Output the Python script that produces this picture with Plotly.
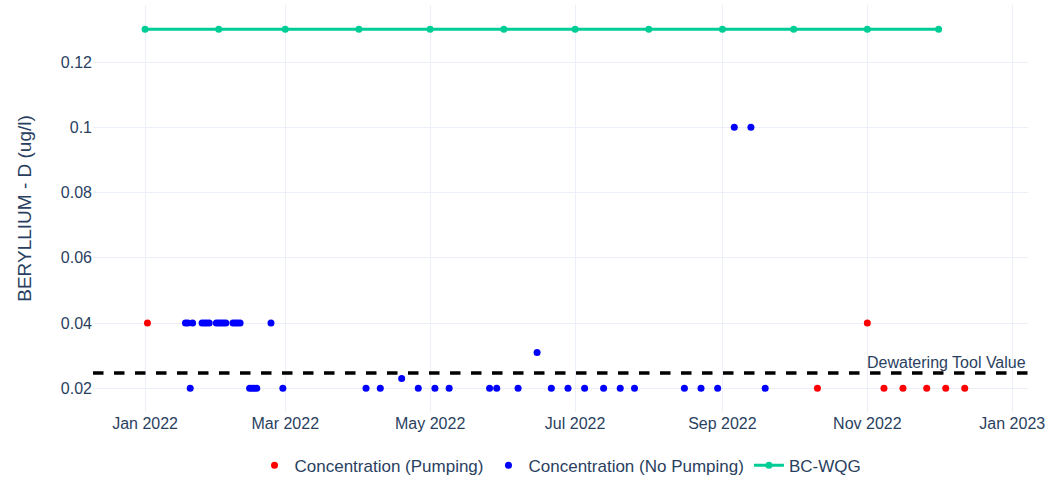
import plotly.graph_objects as go

# Sample results, pumping periods
pump_dates = [
    "2022-01-02", "2022-10-11", "2022-11-01", "2022-11-08",
    "2022-11-16", "2022-11-26", "2022-12-04", "2022-12-12",
]
pump_conc = [0.04, 0.02, 0.04, 0.02, 0.02, 0.02, 0.02, 0.02]

# Sample results, no pumping
nopump_dates = [
    "2022-01-18", "2022-01-19", "2022-01-20", "2022-01-21",
    "2022-01-25", "2022-01-26", "2022-01-27", "2022-01-28", "2022-01-31",
    "2022-02-01", "2022-02-02", "2022-02-03", "2022-02-04", "2022-02-07",
    "2022-02-08", "2022-02-09", "2022-02-10",
    "2022-02-14", "2022-02-15", "2022-02-16", "2022-02-17",
    "2022-02-23", "2022-02-28",
    "2022-04-04", "2022-04-10", "2022-04-19", "2022-04-26",
    "2022-05-03", "2022-05-09", "2022-05-26", "2022-05-29",
    "2022-06-07", "2022-06-15", "2022-06-21", "2022-06-28",
    "2022-07-05", "2022-07-13", "2022-07-20", "2022-07-26",
    "2022-08-16", "2022-08-23", "2022-08-30",
    "2022-09-06", "2022-09-13", "2022-09-19",
]
nopump_conc = [
    0.04, 0.04, 0.02, 0.04,
    0.04, 0.04, 0.04, 0.04, 0.04,
    0.04, 0.04, 0.04, 0.04, 0.04,
    0.04, 0.04, 0.04,
    0.02, 0.02, 0.02, 0.02,
    0.04, 0.02,
    0.02, 0.02, 0.023, 0.02,
    0.02, 0.02, 0.02, 0.02,
    0.02, 0.031, 0.02, 0.02,
    0.02, 0.02, 0.02, 0.02,
    0.02, 0.02, 0.02,
    0.1, 0.1, 0.02,
]

# Water quality guideline
wqg_dates = [
    "2022-01-01", "2022-02-01", "2022-03-01", "2022-04-01",
    "2022-05-01", "2022-06-01", "2022-07-01", "2022-08-01",
    "2022-09-01", "2022-10-01", "2022-11-01", "2022-12-01",
]
wqg_conc = [0.13] * 12

dewatering_value = 0.0247

FONT = "Arial, Liberation Sans, sans-serif"

fig = go.Figure()
fig.add_trace(go.Scatter(
    x=pump_dates, y=pump_conc, mode="markers",
    name="Concentration (Pumping)",
    marker=dict(color="red", size=7),
))
fig.add_trace(go.Scatter(
    x=nopump_dates, y=nopump_conc, mode="markers",
    name="Concentration (No Pumping)",
    marker=dict(color="blue", size=7),
))
fig.add_trace(go.Scatter(
    x=wqg_dates, y=wqg_conc, mode="lines+markers",
    name="BC-WQG",
    line=dict(color="#00CC96", width=3),
    marker=dict(color="#00CC96", size=7),
))

fig.add_hline(
    y=dewatering_value,
    line=dict(color="black", width=3.5, dash="dash"),
    annotation_text="Dewatering Tool Value",
    annotation_position="top right",
    annotation_font=dict(size=16, family=FONT),
)

fig.update_xaxes(
    range=["2021-12-10 02:00", "2023-01-07 15:00"],
    dtick="M2", tickformat="%b %Y",
    tickfont=dict(size=16),
    automargin=False,
)
fig.update_yaxes(
    range=[0.01274, 0.13747],
    title_text="BERYLLIUM - D (ug/l)",
    title_font=dict(size=19),
    title_standoff=24,
    tickfont=dict(size=16),
    automargin=False,
)
fig.update_layout(
    template="plotly_white",
    width=1051, height=480,
    font=dict(family=FONT, size=16),
    margin=dict(l=93, r=23, t=5, b=68),
    showlegend=True,
    legend=dict(
        orientation="h", x=0.5, xanchor="center",
        yref="container", y=0.03, yanchor="middle",
        font=dict(size=17),
    ),
)

# drop the default page margin so the figure sits at the window's corner
fig.write_html(
    "out.html",
    config={"displayModeBar": False},
    post_script="document.body.style.margin = '0';",
)
